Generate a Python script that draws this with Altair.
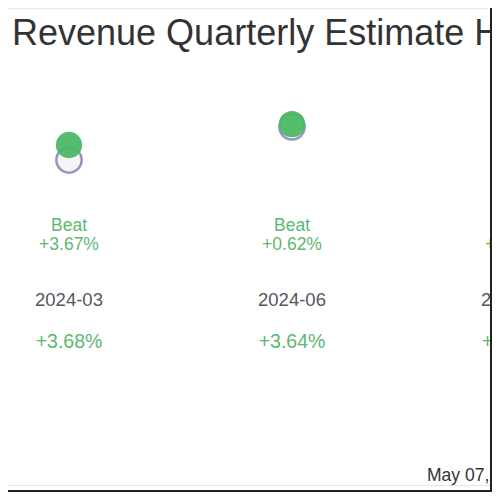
import altair as alt
import pandas as pd

# ---- data ----
quarters = ["2024-03", "2024-06", "2024-09"]
estimates = [100.0, 108.1, 112.0]
actuals = [103.67, 108.77, 114.1]
surprise_labels = ["+3.67%", "+0.62%", "+1.87%"]
result_labels = ["Beat", "Beat", "Beat"]
growth_labels = ["+3.68%", "+3.64%", "+5.10%"]
title_text = "Revenue Quarterly Estimate History"
date_text = "May 07, 2025"

df = pd.DataFrame({
    "quarter": quarters,
    "estimate": estimates,
    "actual": actuals,
    "surprise": surprise_labels,
    "result": result_labels,
    "growth": growth_labels,
})

W, H = 484, 484
FONT = "Liberation Sans"
GREEN = "#4cb865"
GREEN_TXT = "#5cb870"

x = alt.X("quarter:O", axis=None,
          scale=alt.Scale(type="point", range=[61, 507], padding=0),
          sort=quarters)
yscale = alt.Scale(domain=[90, 115], range=[193, 90.6], zero=False)

base = alt.Chart(df)

est = base.mark_point(shape="circle", filled=True, size=640, fill="#f4f4f8",
                      stroke="#9296bd", strokeWidth=2.5, opacity=1).encode(
    x=x, y=alt.Y("estimate:Q", scale=yscale, axis=None))
act = base.mark_point(shape="circle", filled=True, size=690, color=GREEN,
                      opacity=0.95).encode(
    x=x, y=alt.Y("actual:Q", scale=yscale, axis=None))

res_txt = base.mark_text(font=FONT, fontSize=17.5, color=GREEN_TXT,
                         baseline="middle").encode(
    x=x, y=alt.value(217.5), text="result:N")
sur_txt = base.mark_text(font=FONT, fontSize=17.5, color=GREEN_TXT,
                         baseline="middle").encode(
    x=x, y=alt.value(236.5), text="surprise:N")
q_txt = base.mark_text(font=FONT, fontSize=18.5, color="#555560",
                       baseline="middle").encode(
    x=x, y=alt.value(292), text="quarter:N")
g_txt = base.mark_text(font=FONT, fontSize=19.5, color=GREEN_TXT,
                       baseline="middle").encode(
    x=x, y=alt.value(334), text="growth:N")

meta = pd.DataFrame({"title": [title_text], "date": [date_text]})
title = alt.Chart(meta).mark_text(font=FONT, fontSize=36, color="#333333",
                                  align="left", baseline="alphabetic").encode(
    x=alt.value(4), y=alt.value(37), text="title:N")
date = alt.Chart(meta).mark_text(font=FONT, fontSize=17.5, color="#333333",
                                 align="left", baseline="alphabetic").encode(
    x=alt.value(419), y=alt.value(473), text="date:N")

top_light = alt.Chart(meta).mark_rule(color="#e8eaf0", strokeWidth=1.5).encode(
    x=alt.value(0), x2=alt.value(480), y=alt.value(0.75))
right_border = alt.Chart(meta).mark_rule(color="#222222", strokeWidth=2).encode(
    x=alt.value(483), y=alt.value(0), y2=alt.value(484))
bottom_light = alt.Chart(meta).mark_rule(color="#e4e4ea", strokeWidth=1).encode(
    x=alt.value(0), x2=alt.value(482), y=alt.value(477.5))
bottom_border = alt.Chart(meta).mark_rule(color="#222222", strokeWidth=2).encode(
    x=alt.value(0), x2=alt.value(484), y=alt.value(483))

chart = alt.layer(
    est, act, res_txt, sur_txt, q_txt, g_txt, title, date,
    top_light, bottom_light, right_border, bottom_border
).properties(
    width=W, height=H, padding=0,
    autosize=alt.AutoSizeParams(type="none"),
    background="white",
).configure_view(stroke=None)

chart.save("out.html", embed_options={"renderer": "svg", "actions": False})
